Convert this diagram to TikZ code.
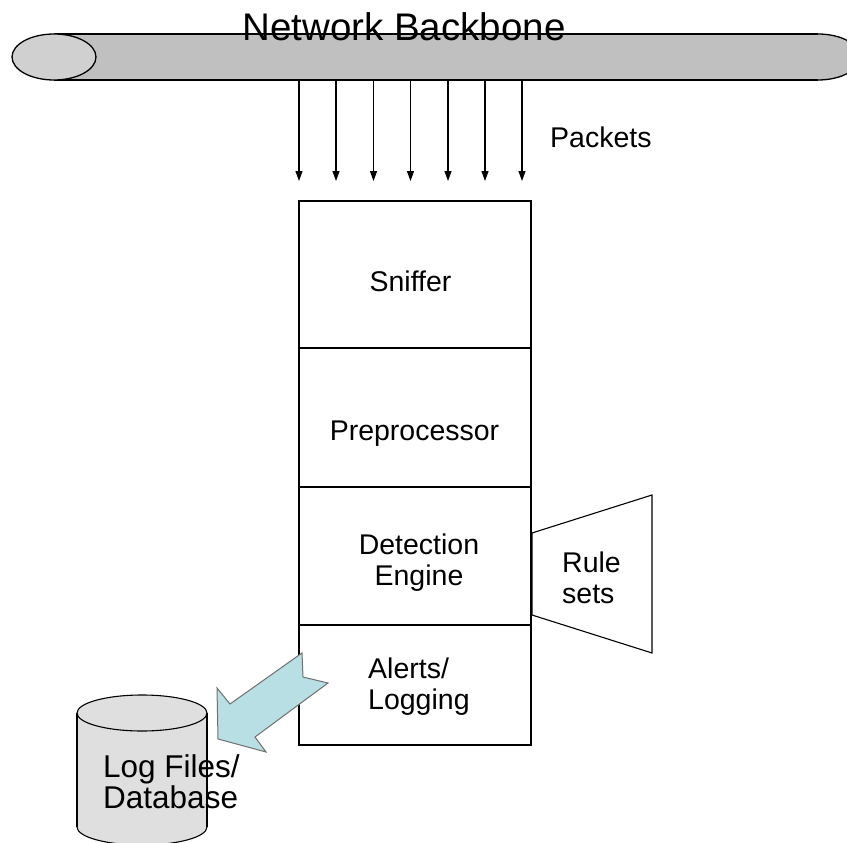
\documentclass[tikz,border=0pt]{standalone}
\usepackage{fontspec}
\setmainfont{Liberation Sans}
\usetikzlibrary{arrows.meta}

\definecolor{pipefill}{HTML}{C0C0C0}
\definecolor{pipeend}{HTML}{D0D0D0}
\definecolor{dbfill}{HTML}{DFDFDF}
\definecolor{arrowfill}{HTML}{B8DFE3}
\definecolor{arrowline}{HTML}{707070}

\tikzset{
  outline/.style={draw=black, line width=1.1pt},
  stage/.style={draw=black, line width=1.1pt, minimum width=232pt, inner sep=0pt},
  lbl/.style={inner sep=0pt, font=\fontsize{28.5}{31}\selectfont},
  packet/.style={line width=1.1pt, -{Triangle[length=10pt,width=7pt]}},
}

\begin{document}
\begin{tikzpicture}[x=1pt,y=-1pt]
\useasboundingbox (0,0) rectangle (847,843);

% backbone pipe
\fill[pipefill] (54,34) rectangle (818,80);
\fill[pipefill] (818,57) ellipse[x radius=42pt,y radius=23pt];
\draw[line width=1.3pt] (54,34) -- (818,34) (54,80) -- (818,80);
\begin{scope}
  \clip (818,0) rectangle (880,120);
  \draw[line width=1.3pt] (818,57) ellipse[x radius=42pt,y radius=23pt];
\end{scope}
\draw[line width=1.3pt, fill=pipeend] (54,57) ellipse[x radius=42pt,y radius=23pt];
\node[lbl, font=\fontsize{38.5}{40}\selectfont, anchor=base] (backbone) at (404,41) {Network Backbone};

% processing stack
\node[stage, minimum height=147pt] (sniffer) at (415,274.5) {};
\node[stage, minimum height=139pt] (preproc) at (415,417.5) {};
\node[stage, minimum height=138pt] (detect)  at (415,556) {};
\node[stage, minimum height=120pt] (alerts)  at (415,685) {};

% packets dropping from the backbone
\foreach \i/\x in {1/299,2/336,3/373.5,4/410.5,5/448,6/485,7/522} {
  \coordinate (tap\i) at (\x,80);
  \coordinate (drop\i) at (\x,181);
  \draw[packet] (tap\i) -- (drop\i);
}
\node[lbl, anchor=base west] (packets) at (550,147) {Packets};

% stage labels (base anchor of a two-line label is its last line)
\node[lbl, anchor=base] (snifferlbl) at (410.5,291) {Sniffer};
\node[lbl, anchor=base] (preproclbl) at (414.5,440) {Preprocessor};
\node[lbl, anchor=base, align=center] (detectlbl) at (419,585) {Detection\\Engine};
\node[lbl, anchor=base west, align=left] (alertslbl) at (368,709) {Alerts/\\Logging};

% rule sets
\draw[outline] (532,533) -- (652,495) -- (652,653) -- (532,615) -- cycle;
\node[lbl, anchor=base west, align=left] (rulelbl) at (562,603) {Rule\\sets};

% log storage cylinder
\fill[dbfill] (77,713) rectangle (207,827);
\fill[dbfill] (142,827) ellipse[x radius=65pt,y radius=18pt];
\draw[outline] (77,713) -- (77,827) (207,713) -- (207,827);
\begin{scope}
  \clip (60,827) rectangle (230,870);
  \draw[outline] (142,827) ellipse[x radius=65pt,y radius=18pt];
\end{scope}
\draw[outline, fill=dbfill] (142,713) ellipse[x radius=65pt,y radius=18pt];

% block arrow towards storage
\filldraw[fill=arrowfill, draw=arrowline, line width=1pt]
  (302,653) -- (303,677) -- (328,683) -- (255,737) -- (266,752)
  -- (218,739) -- (217,688) -- (230,704) -- cycle;

\node[lbl, font=\fontsize{31.5}{31}\selectfont, anchor=base west, align=left] (dblbl) at (103,808) {Log Files/\\Database};
\end{tikzpicture}
\end{document}
